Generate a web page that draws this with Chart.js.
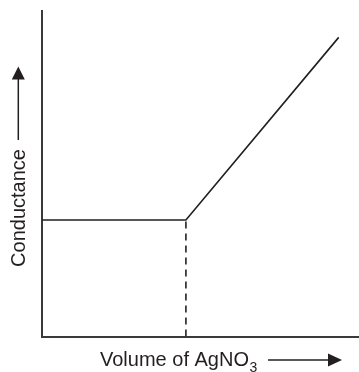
<!DOCTYPE html>
<html>
<head>
<meta charset="utf-8">
<script src="https://cdn.jsdelivr.net/npm/chart.js@4/dist/chart.umd.min.js"></script>
<style>
  html,body{margin:0;padding:0;background:#fff;}
  #wrap{width:359px;height:372px;position:relative;}
</style>
</head>
<body>
<div id="wrap"><canvas id="c" width="359" height="372"></canvas></div>
<script>
// Data (arbitrary units)
const volume = [0, 45.4, 93.6];
const conductance = [35.8, 35.8, 91.9];
const endpointVolume = [45.4, 45.4];
const endpointLevel = [0, 35.8];
const yLabel = "Conductance";
const xLabel = "Volume of AgNO";
const xLabelSub = "3";

const FONT = '"Liberation Sans", Arial, Helvetica, sans-serif';
const INK = '#231f20';

const labelsPlugin = {
  id: 'labels',
  afterDraw(chart) {
    const ctx = chart.ctx;
    ctx.save();
    ctx.fillStyle = INK;
    ctx.strokeStyle = INK;
    // Y label (rotated)
    ctx.save();
    ctx.translate(25, 208);
    ctx.rotate(-Math.PI / 2);
    ctx.font = '20px ' + FONT;
    ctx.textAlign = 'center';
    ctx.textBaseline = 'alphabetic';
    ctx.fillText(yLabel, 0, 0);
    ctx.restore();
    // Y arrow
    ctx.lineWidth = 1.5;
    ctx.beginPath();
    ctx.moveTo(18.3, 140);
    ctx.lineTo(18.3, 78);
    ctx.stroke();
    ctx.beginPath();
    ctx.moveTo(18.3, 66.5);
    ctx.lineTo(24.8, 79.5);
    ctx.lineTo(11.8, 79.5);
    ctx.closePath();
    ctx.fill();
    // X label
    ctx.font = '20px ' + FONT;
    ctx.textAlign = 'left';
    ctx.textBaseline = 'alphabetic';
    ctx.fillText(xLabel, 100, 366);
    const w = ctx.measureText(xLabel).width;
    ctx.font = '14px ' + FONT;
    ctx.fillText(xLabelSub, 100 + w + 0.5, 371.5);
    // X arrow
    ctx.beginPath();
    ctx.moveTo(268, 360);
    ctx.lineTo(330, 360);
    ctx.stroke();
    ctx.beginPath();
    ctx.moveTo(342, 360);
    ctx.lineTo(328, 353.5);
    ctx.lineTo(328, 366.5);
    ctx.closePath();
    ctx.fill();
    ctx.restore();
  }
};

new Chart(document.getElementById('c'), {
  type: 'scatter',
  data: {
    datasets: [
      {
        data: volume.map((v, i) => ({x: v, y: conductance[i]})),
        showLine: true,
        borderColor: INK,
        borderWidth: 1.6,
        pointRadius: 0,
        tension: 0
      },
      {
        data: endpointVolume.map((v, i) => ({x: v, y: endpointLevel[i]})),
        showLine: true,
        borderColor: INK,
        borderWidth: 1.6,
        borderDash: [7, 5],
        pointRadius: 0,
        tension: 0
      }
    ]
  },
  options: {
    responsive: false,
    animation: false,
    devicePixelRatio: 1,
    layout: {padding: {left: 34, top: 11, right: 0, bottom: 27.5}},
    plugins: {legend: {display: false}, tooltip: {enabled: false}},
    scales: {
      x: {
        type: 'linear', min: 0, max: 100,
        ticks: {display: false},
        grid: {display: false},
        border: {display: true, color: '#3a3a3a', width: 2}
      },
      y: {
        type: 'linear', min: 0, max: 100,
        ticks: {display: false},
        grid: {display: false},
        border: {display: true, color: '#3a3a3a', width: 2}
      }
    }
  },
  plugins: [labelsPlugin]
});
</script>
</body>
</html>
